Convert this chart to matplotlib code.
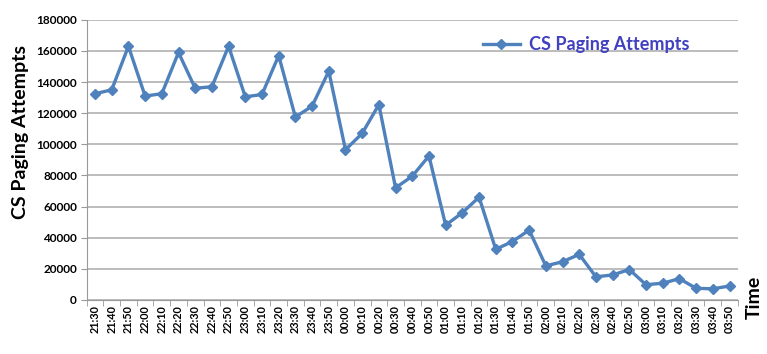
import matplotlib.pyplot as plt
import numpy as np

plt.rcParams['font.family'] = ['Lato', 'DejaVu Sans']

times = ['21:30', '21:40', '21:50', '22:00', '22:10', '22:20', '22:30', '22:40', '22:50',
         '23:00', '23:10', '23:20', '23:30', '23:40', '23:50',
         '00:00', '00:10', '00:20', '00:30', '00:40', '00:50',
         '01:00', '01:10', '01:20', '01:30', '01:40', '01:50',
         '02:00', '02:10', '02:20', '02:30', '02:40', '02:50',
         '03:00', '03:10', '03:20', '03:30', '03:40', '03:50']
attempts = [132500, 135000, 163000, 131000, 132500, 159000, 136000, 137000, 163000,
            130500, 132000, 157000, 117500, 124500, 147000,
            96500, 107000, 125500, 72000, 79500, 92500,
            48000, 56000, 66000, 32500, 37500, 44800,
            21800, 24500, 29200, 14800, 16000, 19500,
            9700, 10700, 13600, 7400, 7100, 8900]
yticks = list(range(0, 180001, 20000))

fig = plt.figure(figsize=(7.67, 3.54), dpi=100)
ax = fig.add_axes([0.113, 0.153, 0.849, 0.791])

x = np.arange(len(times))
ax.plot(x, attempts, color='#4F81BD', lw=2.4, marker='D', ms=5.5,
        label='CS Paging Attempts')

ax.set_xlim(-0.5, len(times) - 0.5)
ax.set_ylim(0, 180000)
ax.set_yticks(yticks)
ax.set_yticklabels([str(v) for v in yticks], fontsize=8.5, fontweight='bold')
ax.set_xticks(x)
ax.set_xticklabels(times, rotation=90, fontsize=7.8, fontweight='bold')
ax.set_xticks(np.arange(-0.5, len(times)), minor=True)
ax.tick_params(axis='x', which='major', length=0, pad=4)
ax.tick_params(axis='x', which='minor', length=4, color='#999999')
ax.tick_params(axis='y', length=4, color='#999999', pad=3)

ax.grid(axis='y', color='#aaaaaa', lw=1.1)
ax.set_axisbelow(True)
for s in ['top', 'right']:
    ax.spines[s].set_visible(False)
for s in ['left', 'bottom']:
    ax.spines[s].set_color('#999999')

ax.set_ylabel('CS Paging Attempts', fontsize=14, fontweight='bold', va='center')
ax.yaxis.set_label_coords(-0.102, 0.6)
fig.text(0.984, 0.16, 'Time', rotation=90, fontsize=14, fontweight='bold',
         ha='center', va='center')

leg = ax.legend(loc='upper right', bbox_to_anchor=(0.95, 1.0), frameon=False,
                fontsize=13, handlelength=2.0, handletextpad=0.5)
for t in leg.get_texts():
    t.set_color('#4040C0')
    t.set_fontweight('bold')

fig.savefig('out.png', dpi=100)
